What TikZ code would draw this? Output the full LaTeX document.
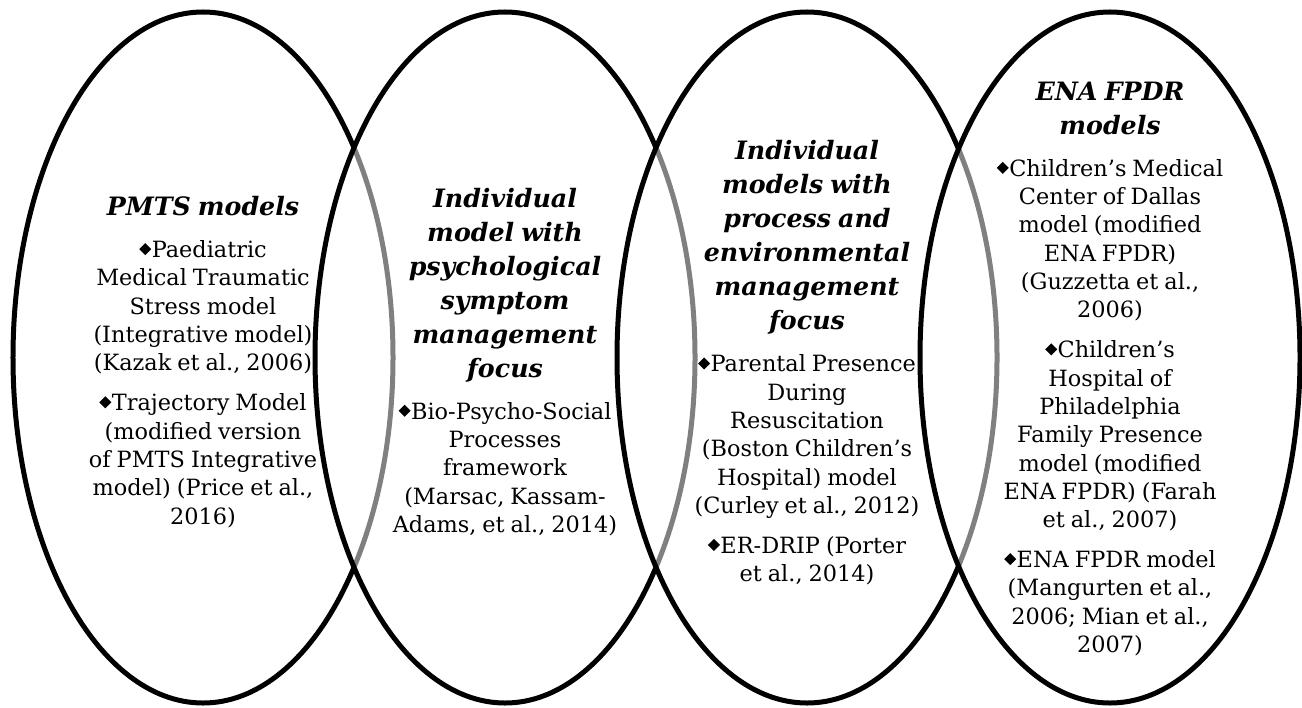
\documentclass[tikz,border=0pt]{standalone}
\usepackage{graphicx}
\usepackage{fontspec}
\setmainfont{DejaVu Serif}
\usetikzlibrary{shapes.geometric}

% bullet glyph used before each model: a small square turned on its corner
\newcommand\dmd{\raisebox{2.5bp}{\rotatebox{45}{\rule{8.5bp}{8.5bp}}}\hspace{0.5bp}}
% heading block and body block of each circle (fixed interword spaces)
\newcommand\hd[1]{{\fontsize{25.3bp}{34bp}\selectfont\bfseries\itshape
  \spaceskip=7bp\relax #1\par}\vspace{13.7bp}}
\newcommand\bd[1]{{\fontsize{22.4bp}{28.3bp}\selectfont
  \spaceskip=6bp\relax #1\par}}
\newcommand\gap{\vspace{11.7bp}}

\tikzset{
  venn/.style={ellipse, draw=black, line width=5bp, fill=white, fill opacity=0.5,
    minimum width=380bp, minimum height=691bp, inner sep=0pt, outer sep=0pt},
  blocktext/.style={align=center, text width=340bp, inner sep=0pt,
    execute at begin node={\setlength\parskip{0pt}\setlength\parindent{0pt}}}
}

\begin{document}
\begin{tikzpicture}[x=1bp, y=-1bp]
  \useasboundingbox (0,0) rectangle (1302,707);

  % the four overlapping ellipses, drawn left to right
  \node[venn] (e1) at (203,357.5) {};
  \node[venn] (e2) at (505,357.5) {};
  \node[venn] (e3) at (807,357.5) {};
  \node[venn] (e4) at (1110,357.5) {};

  % texts
  \node[blocktext] (t1) at (203,362) {%
    \hd{PMTS models}%
    \bd{\dmd Paediatric\\Medical Traumatic\\Stress model\\(Integrative model)\\(Kazak et al., 2006)}\gap
    \bd{\dmd Trajectory Model\\(modified version\\of PMTS Integrative\\model) (Price et al.,\\2016)}};

  \node[blocktext] (t2) at (505,362) {%
    \hd{Individual\\model with\\psychological\\symptom\\management\\focus}%
    \bd{\dmd Bio-Psycho-Social\\Processes\\framework\\(Marsac, Kassam-\\Adams, et al., 2014)}};

  \node[blocktext] (t3) at (807,363) {%
    \hd{Individual\\models with\\process and\\environmental\\management\\focus}%
    \bd{\dmd Parental Presence\\During\\Resuscitation\\(Boston Children’s\\Hospital) model\\(Curley et al., 2012)}\gap
    \bd{\dmd ER-DRIP (Porter\\et al., 2014)}};

  \node[blocktext] (t4) at (1110,369) {%
    \hd{ENA FPDR\\models}%
    \bd{\dmd Children’s Medical\\Center of Dallas\\model (modified\\ENA FPDR)\\(Guzzetta et al.,\\2006)}\gap
    \bd{\dmd Children’s\\Hospital of\\Philadelphia\\Family Presence\\model (modified\\ENA FPDR) (Farah\\et al., 2007)}\gap
    \bd{\dmd ENA FPDR model\\(Mangurten et al.,\\2006; Mian et al.,\\2007)}};
\end{tikzpicture}
\end{document}
